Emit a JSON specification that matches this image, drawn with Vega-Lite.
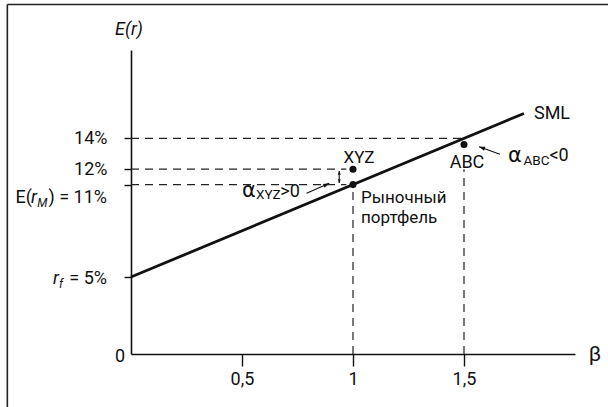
{
  "$schema": "https://vega.github.io/schema/vega-lite/v6.json",
  "width": 444,
  "height": 304,
  "autosize": {"type": "none"},
  "padding": {"left": 131, "top": 50, "right": 33, "bottom": 53},
  "background": "white",
  "config": {
    "font": "Roboto",
    "view": {"stroke": null},
    "text": {"font": "Roboto", "color": "#111", "fontSize": 18}
  },
  "datasets": {
    "frame": [
      {"beta": -0.557, "beta2": 2.2, "er": 22.69, "er2": 22.69},
      {"beta": -0.557, "beta2": -0.557, "er": 22.69, "er2": -3.6}
    ],
    "sml": [{"beta": 0, "er": 5}, {"beta": 1.77, "er": 15.62}],
    "guides": [
      {"beta": 0, "beta2": 1.5, "er": 14, "er2": 14},
      {"beta": 0, "beta2": 0.97, "er": 12, "er2": 12},
      {"beta": 0, "beta2": 0.97, "er": 11, "er2": 11},
      {"beta": 1, "beta2": 1, "er": 0, "er2": 10.6},
      {"beta": 1.5, "beta2": 1.5, "er": 0, "er2": 12.0}
    ],
    "ticks": [{"er": 11}, {"er": 12}, {"er": 14}],
    "points": [
      {"name": "Рыночный портфель", "beta": 1, "er": 11},
      {"name": "XYZ", "beta": 1, "er": 12},
      {"name": "ABC", "beta": 1.5, "er": 13.6}
    ],
    "arrows": [
      {"id": "xyz", "beta": 0.791, "er": 10.44, "beta2": 0.893, "er2": 11.08},
      {"id": "abc", "beta": 1.662, "er": 12.97, "beta2": 1.568, "er2": 13.46},
      {"id": "gap", "beta": 0.938, "er": 11.1, "beta2": 0.938, "er2": 11.88}
    ],
    "labels": [
      {"id": "Er", "beta": 0, "er": 19.74, "text": "E(r)"},
      {"id": "zero", "beta": 0, "er": 0, "text": "0"},
      {"id": "rf_r", "beta": 0, "er": 5, "text": "r"},
      {"id": "rf_f", "beta": 0, "er": 5, "text": "f"},
      {"id": "rf_v", "beta": 0, "er": 5, "text": "= 5%"},
      {"id": "rm_E", "beta": 0, "er": 11, "text": "E("},
      {"id": "rm_r", "beta": 0, "er": 11, "text": "r"},
      {"id": "rm_M", "beta": 0, "er": 11, "text": "M"},
      {"id": "rm_v", "beta": 0, "er": 11, "text": ") = 11%"},
      {"id": "sml", "beta": 1.77, "er": 15.62, "text": "SML"},
      {"id": "xyz", "beta": 1, "er": 12, "text": "XYZ"},
      {"id": "abc", "beta": 1.5, "er": 13.6, "text": "ABC"},
      {"id": "market", "beta": 1, "er": 11, "text": "Рыночный\nпортфель"},
      {"id": "ax_a", "beta": 0.5, "er": 10.2, "text": "α"},
      {"id": "ax_s", "beta": 0.5, "er": 10.2, "text": "XYZ"},
      {"id": "ax_v", "beta": 0.5, "er": 10.2, "text": ">0"},
      {"id": "aa_a", "beta": 1.698, "er": 12.49, "text": "α"},
      {"id": "aa_s", "beta": 1.698, "er": 12.49, "text": "ABC"},
      {"id": "aa_v", "beta": 1.698, "er": 12.49, "text": "<0"},
      {"id": "beta", "beta": 2, "er": 0, "text": "β"}
    ]
  },
  "encoding": {
    "x": {
      "field": "beta", "type": "quantitative",
      "scale": {"domain": [0, 2], "nice": false, "zero": false},
      "axis": {
        "values": [0.5, 1, 1.5], "title": null, "grid": false,
        "domainColor": "#111", "domainWidth": 1.6,
        "tickColor": "#111", "tickWidth": 1.4, "tickSize": 12,
        "labelFont": "Roboto", "labelFontSize": 18, "labelColor": "#111",
        "labelPadding": 4, "labelFlush": false, "labelOverlap": false,
        "labelExpr": "datum.value == 1 ? '1' : replace(datum.label, '.', ',')"
      }
    },
    "y": {
      "field": "er", "type": "quantitative",
      "scale": {"domain": [0, 19.74], "nice": false, "zero": false},
      "axis": {
        "values": [5, 11, 12, 14], "title": null, "grid": false,
        "domainColor": "#111", "domainWidth": 1.6,
        "tickColor": "#111", "tickWidth": 1.4, "tickSize": 7,
        "labelFont": "Roboto", "labelFontSize": 18, "labelColor": "#111",
        "labelPadding": 17, "labelBaseline": "middle", "labelOverlap": false,
        "labelExpr": "datum.value == 14 ? '14%' : datum.value == 12 ? '12%' : ''"
      }
    }
  },
  "layer": [
    {
      "data": {"name": "frame"},
      "mark": {"type": "rule", "color": "#222", "strokeWidth": 1.6},
      "encoding": {"x2": {"field": "beta2"}, "y2": {"field": "er2"}}
    },
    {
      "data": {"name": "ticks"},
      "mark": {"type": "rule", "color": "#111", "strokeWidth": 1.4},
      "encoding": {"x": {"datum": 0}, "x2": {"datum": 0.022}}
    },
    {
      "data": {"name": "guides"},
      "mark": {"type": "rule", "color": "#222", "strokeWidth": 1.2, "strokeDash": [8, 6]},
      "encoding": {"x2": {"field": "beta2"}, "y2": {"field": "er2"}}
    },
    {
      "data": {"name": "sml"},
      "mark": {"type": "line", "color": "#111", "strokeWidth": 2.8},
      "encoding": {}
    },
    {
      "data": {"name": "arrows"},
      "mark": {"type": "rule", "color": "#111", "strokeWidth": 1.1},
      "encoding": {"x2": {"field": "beta2"}, "y2": {"field": "er2"}}
    },
    {
      "data": {"name": "arrows"},
      "transform": [{"filter": "datum.id == 'xyz'"}],
      "mark": {"type": "point", "filled": true, "opacity": 1, "color": "#111", "shape": "M0,0L-0.7,2L0.7,2Z", "size": 36, "angle": 66},
      "encoding": {"x": {"field": "beta2", "type": "quantitative"}, "y": {"field": "er2", "type": "quantitative"}}
    },
    {
      "data": {"name": "arrows"},
      "transform": [{"filter": "datum.id == 'abc'"}],
      "mark": {"type": "point", "filled": true, "opacity": 1, "color": "#111", "shape": "M0,0L-0.7,2L0.7,2Z", "size": 36, "angle": 290},
      "encoding": {"x": {"field": "beta2", "type": "quantitative"}, "y": {"field": "er2", "type": "quantitative"}}
    },
    {
      "data": {"name": "arrows"},
      "transform": [{"filter": "datum.id == 'gap'"}],
      "mark": {"type": "point", "filled": true, "opacity": 1, "color": "#111", "shape": "M0,0L-0.8,2L0.8,2Z", "size": 14, "angle": 0},
      "encoding": {"x": {"field": "beta2", "type": "quantitative"}, "y": {"field": "er2", "type": "quantitative"}}
    },
    {
      "data": {"name": "arrows"},
      "transform": [{"filter": "datum.id == 'gap'"}],
      "mark": {"type": "point", "filled": true, "opacity": 1, "color": "#111", "shape": "M0,0L-0.8,2L0.8,2Z", "size": 14, "angle": 180},
      "encoding": {}
    },
    {
      "data": {"name": "points"},
      "mark": {"type": "point", "filled": true, "opacity": 1, "color": "#111", "size": 50},
      "encoding": {}
    },
    {
      "data": {"name": "labels"},
      "transform": [{"filter": "datum.id == 'Er'"}],
      "mark": {"type": "text", "align": "center", "baseline": "alphabetic", "fontStyle": "italic", "dx": -2, "dy": -15},
      "encoding": {"text": {"field": "text"}}
    },
    {
      "data": {"name": "labels"},
      "transform": [{"filter": "datum.id == 'zero'"}],
      "mark": {"type": "text", "align": "right", "baseline": "alphabetic", "dx": -6, "dy": 8},
      "encoding": {"text": {"field": "text"}}
    },
    {
      "data": {"name": "labels"},
      "transform": [{"filter": "datum.id == 'rf_v'"}],
      "mark": {"type": "text", "align": "right", "baseline": "alphabetic", "dx": -24, "dy": 7},
      "encoding": {"text": {"field": "text"}}
    },
    {
      "data": {"name": "labels"},
      "transform": [{"filter": "datum.id == 'rf_r'"}],
      "mark": {"type": "text", "align": "right", "baseline": "alphabetic", "fontStyle": "italic", "dx": -72, "dy": 7},
      "encoding": {"text": {"field": "text"}}
    },
    {
      "data": {"name": "labels"},
      "transform": [{"filter": "datum.id == 'rf_f'"}],
      "mark": {"type": "text", "align": "left", "baseline": "alphabetic", "fontStyle": "italic", "fontSize": 12, "dx": -72, "dy": 11},
      "encoding": {"text": {"field": "text"}}
    },
    {
      "data": {"name": "labels"},
      "transform": [{"filter": "datum.id == 'rm_v'"}],
      "mark": {"type": "text", "align": "right", "baseline": "alphabetic", "dx": -24, "dy": 18.5},
      "encoding": {"text": {"field": "text"}}
    },
    {
      "data": {"name": "labels"},
      "transform": [{"filter": "datum.id == 'rm_M'"}],
      "mark": {"type": "text", "align": "right", "baseline": "alphabetic", "fontStyle": "italic", "fontSize": 12, "dx": -83.5, "dy": 22.5},
      "encoding": {"text": {"field": "text"}}
    },
    {
      "data": {"name": "labels"},
      "transform": [{"filter": "datum.id == 'rm_r'"}],
      "mark": {"type": "text", "align": "right", "baseline": "alphabetic", "fontStyle": "italic", "dx": -94, "dy": 18.5},
      "encoding": {"text": {"field": "text"}}
    },
    {
      "data": {"name": "labels"},
      "transform": [{"filter": "datum.id == 'rm_E'"}],
      "mark": {"type": "text", "align": "right", "baseline": "alphabetic", "dx": -99, "dy": 18.5},
      "encoding": {"text": {"field": "text"}}
    },
    {
      "data": {"name": "labels"},
      "transform": [{"filter": "datum.id == 'sml'"}],
      "mark": {"type": "text", "align": "left", "baseline": "alphabetic", "dx": 10, "dy": 6},
      "encoding": {"text": {"field": "text"}}
    },
    {
      "data": {"name": "labels"},
      "transform": [{"filter": "datum.id == 'xyz'"}],
      "mark": {"type": "text", "align": "center", "baseline": "alphabetic", "fontSize": 17, "dx": 6, "dy": -6},
      "encoding": {"text": {"field": "text"}}
    },
    {
      "data": {"name": "labels"},
      "transform": [{"filter": "datum.id == 'abc'"}],
      "mark": {"type": "text", "align": "center", "baseline": "alphabetic", "dx": 3, "dy": 23.4},
      "encoding": {"text": {"field": "text"}}
    },
    {
      "data": {"name": "labels"},
      "transform": [{"filter": "datum.id == 'market'"}],
      "mark": {"type": "text", "align": "left", "baseline": "alphabetic", "fontSize": 17, "dx": 8, "dy": 18.7, "lineBreak": "\n", "lineHeight": 20},
      "encoding": {"text": {"field": "text"}}
    },
    {
      "data": {"name": "labels"},
      "transform": [{"filter": "datum.id == 'ax_a' || datum.id == 'aa_a'"}],
      "mark": {"type": "text", "align": "left", "baseline": "alphabetic", "font": "DejaVu Sans", "fontSize": 21},
      "encoding": {"text": {"field": "text"}}
    },
    {
      "data": {"name": "labels"},
      "transform": [{"filter": "datum.id == 'ax_s'"}],
      "mark": {"type": "text", "align": "left", "baseline": "alphabetic", "fontSize": 13.5, "dx": 14, "dy": 2.5},
      "encoding": {"text": {"field": "text"}}
    },
    {
      "data": {"name": "labels"},
      "transform": [{"filter": "datum.id == 'ax_v'"}],
      "mark": {"type": "text", "align": "left", "baseline": "alphabetic", "dx": 38.3, "dy": 0},
      "encoding": {"text": {"field": "text"}}
    },
    {
      "data": {"name": "labels"},
      "transform": [{"filter": "datum.id == 'aa_s'"}],
      "mark": {"type": "text", "align": "left", "baseline": "alphabetic", "fontSize": 13.5, "dx": 15.5, "dy": 3.5},
      "encoding": {"text": {"field": "text"}}
    },
    {
      "data": {"name": "labels"},
      "transform": [{"filter": "datum.id == 'aa_v'"}],
      "mark": {"type": "text", "align": "left", "baseline": "alphabetic", "dx": 41.5, "dy": -1},
      "encoding": {"text": {"field": "text"}}
    },
    {
      "data": {"name": "labels"},
      "transform": [{"filter": "datum.id == 'beta'"}],
      "mark": {"type": "text", "align": "center", "baseline": "alphabetic", "fontSize": 21, "dx": 20, "dy": 7},
      "encoding": {"text": {"field": "text"}}
    }
  ]
}
